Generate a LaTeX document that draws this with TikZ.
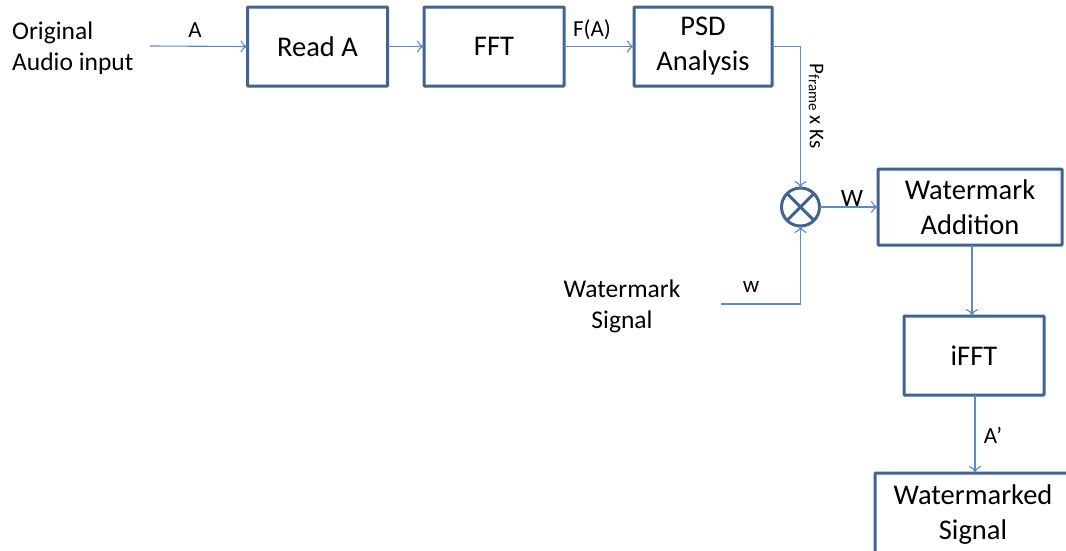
\documentclass[tikz,border=0pt]{standalone}
\usepackage{fontspec}
\setmainfont{Carlito}
\usetikzlibrary{arrows.meta}
\definecolor{boxblue}{HTML}{41648F}
\definecolor{linkblue}{HTML}{5B8BC9}
\tikzset{
  blockbox/.style={draw=boxblue, line width=3pt, rounded corners=0.8pt, inner sep=0pt, outer sep=0pt,
    align=center, font=\fontsize{28.5}{35}\selectfont},
  link/.style={draw=linkblue, line width=1.1pt, -{To[length=7pt,width=12pt]}},
  lbl/.style={inner sep=0pt, font=\fontsize{23}{27}\selectfont},
  sidetext/.style={inner sep=0pt, align=left, font=\fontsize{25.5}{31}\selectfont},
}
\begin{document}
\begin{tikzpicture}[x=1pt,y=-1pt]
\useasboundingbox (0,0) rectangle (1066,550);

% processing blocks
\node[blockbox, minimum width=140pt, minimum height=79pt] (read) at (317.5,46.5) {Read A};
\node[blockbox, minimum width=140pt, minimum height=79pt] (fft) at (494,46.5) {FFT};
\node[blockbox, minimum width=138pt, minimum height=79pt] (psd) at (703,46.5) {PSD\\Analysis};
\node[blockbox, minimum width=184pt, minimum height=76pt] (add) at (970,207) {Watermark\\Addition};
\node[blockbox, minimum width=140pt, minimum height=79pt] (ifft) at (974,355.5) {iFFT};
\node[blockbox, minimum width=196pt, minimum height=84pt, anchor=north west] (out) at (875,473) {Watermarked\\Signal};

% multiplier
\node[draw=boxblue, line width=3pt, circle, minimum size=38pt, inner sep=0pt, outer sep=0pt] (mult) at (800.5,207) {};
\draw[boxblue, line width=3pt] (mult.45) -- (mult.225) (mult.135) -- (mult.315);

% outside texts
\node[sidetext, anchor=west] (src) at (12,48.5) {Original\\Audio input};
\node[sidetext, align=center] (wsig) at (622,306) {Watermark\\Signal};

% free ends
\coordinate (ain) at (150,46);
\coordinate (win) at (721,304);

% connectors
\draw[link] (ain) -- (read.west);
\draw[link] (read.east) -- (fft.west);
\draw[link] (fft.east) -- (psd.west);
\draw[link] (psd.east) -| (mult.north);
\draw[link] (win) -| (mult.south);
\draw[link] (mult.east) -- (add.west);
\draw[link] (add.south -| 972,0) -- (ifft.north -| 972,0);
\draw[link] (ifft.south -| 975,0) -- (out.north -| 975,0);

% connector labels
\node[lbl] (la) at (195,30) {A};
\node[lbl] (lfa) at (592,30) {F(A)};
\node[lbl, rotate=-90, font=\fontsize{21}{25}\selectfont] (lp) at (816,106)
  {P\raisebox{-1pt}{\fontsize{15}{15}\selectfont frame} x Ks};
\node[lbl, font=\fontsize{25}{29}\selectfont] (lw) at (852,198) {W};
\node[lbl] (lsw) at (751,287) {w};
\node[lbl] (lap) at (993,435) {A’};
\end{tikzpicture}
\end{document}
